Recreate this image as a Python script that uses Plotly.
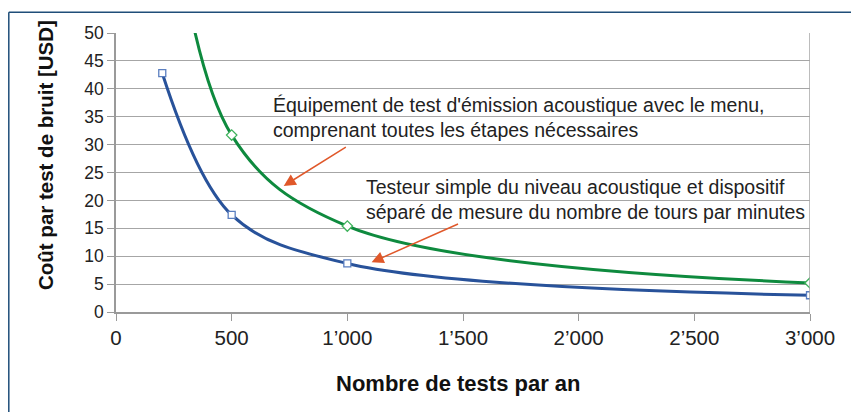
import plotly.graph_objects as go

# Data
tests_blue = [200, 500, 1000, 3000]
cost_blue = [42.8, 17.4, 8.7, 3.0]
tests_green = [200, 500, 1000, 3000]
cost_green = [88.0, 31.7, 15.4, 5.2]

x_ticks = [0, 500, 1000, 1500, 2000, 2500, 3000]
x_ticklabels = ["0", "500", "1\u2019000", "1\u2019500", "2\u2019000", "2\u2019500", "3\u2019000"]
y_ticks = [0, 5, 10, 15, 20, 25, 30, 35, 40, 45, 50]

label_green = "Équipement de test d'émission acoustique avec le menu,<br>comprenant toutes les étapes nécessaires"
label_blue = "Testeur simple du niveau acoustique et dispositif<br>séparé de mesure du nombre de tours par minutes"
x_title = "<b>Nombre de tests par an</b>"
y_title = "<b>Coût par test de bruit [USD]</b>"

FONT = "Liberation Sans, Arial, sans-serif"

fig = go.Figure()
fig.add_trace(go.Scatter(
    x=tests_green, y=cost_green, mode="lines+markers",
    line=dict(color="#0e8a3e", width=3, shape="spline", smoothing=1.0),
    marker=dict(symbol="diamond", size=8, color="white", line=dict(color="#3fb25c", width=1.3)),
    showlegend=False,
))
fig.add_trace(go.Scatter(
    x=tests_blue, y=cost_blue, mode="lines+markers",
    line=dict(color="#28529a", width=3, shape="spline", smoothing=1.0),
    marker=dict(symbol="square", size=7, color="white", line=dict(color="#5b7fc0", width=1.3)),
    showlegend=False,
))

fig.add_annotation(x=670, y=39.5, xref="x", yref="y", text=label_green, showarrow=False,
                   xanchor="left", yanchor="top", align="left",
                   font=dict(family=FONT, size=19.5, color="#222"))
fig.add_annotation(x=1072, y=24.7, xref="x", yref="y", text=label_blue, showarrow=False,
                   xanchor="left", yanchor="top", align="left",
                   font=dict(family=FONT, size=19.5, color="#222"))

# arrows
fig.add_annotation(x=725, y=22.6, ax=1000, ay=29.7, xref="x", yref="y", axref="x", ayref="y",
                   text="", showarrow=True, arrowhead=2, arrowsize=1.6, arrowwidth=1.5,
                   arrowcolor="#e0582a")
fig.add_annotation(x=1105, y=8.9, ax=1485, ay=15.9, xref="x", yref="y", axref="x", ayref="y",
                   text="", showarrow=True, arrowhead=2, arrowsize=1.6, arrowwidth=1.5,
                   arrowcolor="#e0582a")

L, T, W, H = 108, 25, 694, 279

# axis titles
fig.add_annotation(x=(450 - L) / W, y=1 - (375 - T) / H, xref="paper", yref="paper",
                   text=x_title, showarrow=False, xanchor="center", yanchor="middle",
                   font=dict(family=FONT, size=22, color="#111"))
fig.add_annotation(x=(37 - L) / W, y=1 - (147 - T) / H, xref="paper", yref="paper",
                   text=y_title, showarrow=False, textangle=-90,
                   xanchor="center", yanchor="middle",
                   font=dict(family=FONT, size=20.5, color="#111"))

# outer frame (top and left)
fig.add_shape(type="line", xref="paper", yref="paper",
              x0=(0.8 - L) / W, x1=1.2, y0=1 + (T - 4.2) / H, y1=1 + (T - 4.2) / H,
              line=dict(color="#1f4e79", width=1.5))
fig.add_shape(type="line", xref="paper", yref="paper",
              x0=(0.8 - L) / W, x1=(0.8 - L) / W, y0=1 + (T - 4.2) / H, y1=-0.6,
              line=dict(color="#1f4e79", width=1.5))

fig.update_xaxes(range=[0, 3000], tickvals=x_ticks, ticktext=x_ticklabels,
                 showgrid=False, showline=True, linecolor="#9a9a9a", linewidth=1.5,
                 mirror=False, ticks="outside", ticklen=7, tickcolor="#9a9a9a",
                 tickfont=dict(family=FONT, size=20.5, color="#222"),
                 zeroline=False)
fig.update_yaxes(range=[0, 50], tickvals=y_ticks,
                 showgrid=True, gridcolor="#a6a6a6", gridwidth=1.3,
                 showline=True, linecolor="#9a9a9a", linewidth=1.5,
                 ticks="outside", ticklen=7, tickcolor="#9a9a9a",
                 tickfont=dict(family=FONT, size=17.5, color="#222"),
                 zeroline=False)

# right border of plot area
fig.add_shape(type="line", xref="x", yref="paper", x0=3000, x1=3000, y0=0, y1=1,
              line=dict(color="#a6a6a6", width=1.5))

fig.update_layout(
    width=859, height=412,
    margin=dict(l=L, r=859 - L - W, t=T, b=412 - T - H),
    plot_bgcolor="white", paper_bgcolor="white",
)

fig.write_html("out.html")
